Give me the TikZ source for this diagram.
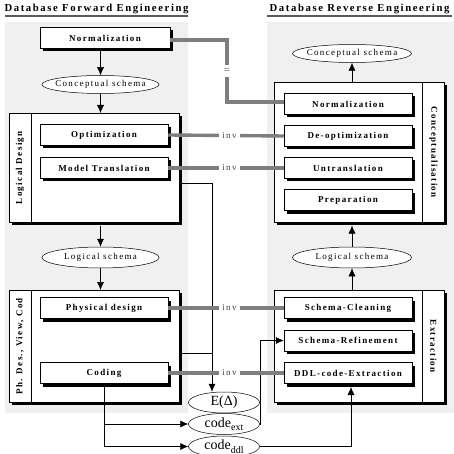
\documentclass[tikz,border=0pt]{standalone}
\usepackage{fontspec}
\setmainfont{Liberation Serif}
\newfontfamily\spc[LetterSpace=15]{Liberation Serif}
\usetikzlibrary{shapes.geometric,arrows.meta,shadows}
\definecolor{panelgray}{HTML}{F0F0F0}
\definecolor{linegray}{HTML}{7E7E7E}
\definecolor{rulegray}{HTML}{5A5A5A}
\newcommand{\zw}[1]{\makebox[0pt]{#1}}
\tikzset{
  panel/.style={fill=panelgray,draw=none},
  titletext/.style={anchor=base,inner sep=0,font=\spc\bfseries\fontsize{10.7}{12}\selectfont},
  uline/.style={draw=rulegray,line width=1.6pt},
  shad/.style={drop shadow={shadow xshift=3pt,shadow yshift=-3pt,fill=black,opacity=1}},
  ibox/.style={draw,fill=white,shad,line width=0.5pt,minimum width=128pt,minimum height=21pt,inner sep=0,
    font=\spc\bfseries\fontsize{9}{10}\selectfont},
  obox/.style={draw,fill=white,shad,line width=0.5pt,inner sep=0,anchor=north west},
  striptext/.style={inner sep=0,font=\spc\bfseries\fontsize{9}{10}\selectfont},
  ell/.style={draw,fill=white,ellipse,inner sep=0,line width=0.5pt,font=\spc\fontsize{9}{10}\selectfont},
  bigell/.style={draw,fill=white,ellipse,inner sep=0,line width=0.5pt,minimum width=71pt,minimum height=21pt,
    font=\fontsize{14}{15}\selectfont},
  arr/.style={draw,line width=0.5pt,-{Latex[length=8pt,width=7pt]}},
  thinline/.style={draw,line width=0.5pt},
  gline/.style={draw=linegray,line width=3.4pt},
  lbl/.style={fill=white,inner xsep=3pt,inner ysep=1pt,text=black!75,font=\spc\fontsize{9}{10}\selectfont},
  eqlbl/.style={fill=white,inner xsep=2pt,inner ysep=3pt,text=black!70,font=\fontsize{11}{12}\selectfont},
}
\newcommand{\sub}[1]{{\fontsize{10}{10}\selectfont\raisebox{-3.5pt}{#1}}}
\begin{document}
\begin{tikzpicture}[x=1pt,y=-1pt]
\useasboundingbox (0,0) rectangle (454,454);
% panels
\fill[panel] (5,22) rectangle (188,413);
\fill[panel] (267,22) rectangle (454,413);
% titles
\node[titletext] (tl) at (96.5,11.5) {Database Forward Engineering};
\node[titletext] (tr) at (359.5,11.5) {Database Reverse Engineering};
\draw[uline] (5,16) -- (188,16);
\draw[uline] (267,16) -- (452,16);

% ---------- left side ----------
\node[ibox,minimum width=130pt] (lnorm) at (105,38) {Normalization};
\node[ell,minimum width=117pt,minimum height=18pt] (lcs) at (100.5,84.5) {\zw{Conceptual schema}};

\node[obox,minimum width=170pt,minimum height=109pt] (ld) at (9,113) {};
\draw[thinline] ([xshift=22pt]ld.north west) -- ([xshift=22pt]ld.south west);
\node[striptext,rotate=90] (ldt) at ([xshift=11pt]ld.west) {Logical Design};
\node[ibox] (opt) at (104,135) {Optimization};
\node[ibox] (mtr) at (104,168) {Model Translation};

\node[ell,minimum width=117pt,minimum height=21pt] (lls) at (100.5,257.5) {\zw{Logical schema}};

\node[obox,minimum width=170pt,minimum height=112pt] (pd) at (9,290) {};
\draw[thinline] ([xshift=22pt]pd.north west) -- ([xshift=22pt]pd.south west);
\node[striptext,rotate=90] (pdt) at ([xshift=11pt]pd.west) {Ph. Des., View, Cod};
\node[ibox] (phy) at (104,308) {Physical design};
\node[ibox] (cod) at (104,373) {Coding};

% ---------- right side ----------
\node[ell,minimum width=119pt,minimum height=18pt] (rcs) at (352,53.5) {\zw{Conceptual schema}};
\node[obox,minimum width=170pt,minimum height=140pt] (cz) at (274,82) {};
\draw[thinline] ([xshift=-22pt]cz.north east) -- ([xshift=-22pt]cz.south east);
\node[striptext,rotate=-90] (czt) at ([xshift=-11pt]cz.east) {Conceptualisation};
\node[ibox] (rnorm) at (348,104) {Normalization};
\node[ibox] (deo) at (348,136) {De-optimization};
\node[ibox] (untr) at (348,168) {Untranslation};
\node[ibox] (prep) at (348,200) {Preparation};

\node[ell,minimum width=119pt,minimum height=21pt] (rls) at (352,257.5) {\zw{Logical schema}};

\node[obox,minimum width=170pt,minimum height=112pt] (ex) at (274,290) {};
\draw[thinline] ([xshift=-22pt]ex.north east) -- ([xshift=-22pt]ex.south east);
\node[striptext,rotate=-90] (ext) at ([xshift=-11pt]ex.east) {Extraction};
\node[ibox] (scl) at (348,308) {Schema-Cleaning};
\node[ibox] (sref) at (348,340.5) {Schema-Refinement};
\node[ibox] (ddl) at (348,373) {DDL-code-Extraction};

% ---------- middle ellipses ----------
\node[bigell] (E) at (224,402.5) {\zw{E(Δ)}};
\node[bigell] (cext) at (224,424) {\zw{code\sub{ext}}};
\node[bigell] (cddl) at (224,446.5) {\zw{code\sub{ddl}}};

% ---------- arrows ----------
\draw[arr] (lnorm.south -| lcs) -- (lcs.north);
\draw[arr] (lcs.south) -- (lcs.south |- ld.north);
\draw[arr] (ld.south -| lls) ++(0,3) -- (lls.north);
\draw[arr] (lls.south) -- (lls.south |- pd.north);

\path (rls.north |- cz.south) ++(0,3) coordinate (czb);
\draw[arr] (rcs.south |- cz.north) -- (rcs.south);
\draw[arr] (rls.north) -- (czb);
\draw[arr] (rls.south |- ex.north) -- (rls.south);

% thin connectors
\coordinate (ldo) at (179,183);
\coordinate (pdo) at (179,353);
\coordinate (vx) at (212,183);
\draw[arr] (ldo) -- (vx) -- (vx |- E.north);
\draw[thinline] (pdo) -- (pdo -| vx);

\draw[arr] (cod.south) ++(0,3) |- (cddl.west);
\draw[arr] (cod.south |- cext.west) -- (cext.west);

\coordinate (jx) at (260,402);
\draw[thinline] (E.east) -- (E.east -| jx);
\draw[arr] (cext.east) -- (cext.east -| jx) -- (jx |- sref.west) -- (sref.west);

\coordinate (ddlb) at (351,387);
\draw[arr] (cddl.east) -| (ddlb);

% gray correspondence lines
\coordinate (eqx) at (227,40);
\draw[gline] (lnorm.east |- eqx) -- (eqx) -- node[eqlbl]{=} (eqx |- 0,102) -- (rnorm.west |- 0,102);
\draw[gline] (opt.east) -- node[lbl,pos=0.53]{inv} (deo.west);
\draw[gline] (mtr.east) -- node[lbl,pos=0.53]{inv} (untr.west);
\draw[gline] (phy.east) -- node[lbl,pos=0.53]{inv} (scl.west);
\draw[gline] (cod.east) -- node[lbl,pos=0.53]{inv} (ddl.west);
\end{tikzpicture}
\end{document}
